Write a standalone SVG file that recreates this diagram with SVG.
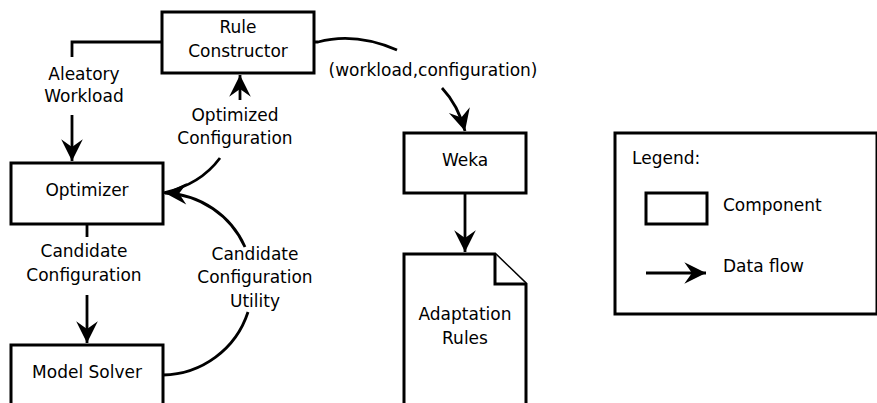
<svg xmlns="http://www.w3.org/2000/svg" width="877" height="403" viewBox="0 0 877 403">
<defs>
<style>
.box{fill:#fff;stroke:#000;stroke-width:3}
.ln{fill:none;stroke:#000;stroke-width:2.8}
.arr{fill:none;stroke:#000;stroke-width:2.8;marker-end:url(#ah)}
text{font-family:"DejaVu Sans","Noto Sans",sans-serif;font-size:17px;fill:#000;text-anchor:middle}
.l{text-anchor:start}
</style>
<marker id="ah" markerUnits="userSpaceOnUse" markerWidth="26" markerHeight="26" viewBox="-22 -12 24 24" refX="0" refY="0" orient="auto">
<path d="M0,0 L-20,-10 L-13,0 L-20,10 Z" fill="#000"/>
</marker>
</defs>
<rect width="877" height="403" fill="#fff"/>
<g id="connectors">
<path class="ln" d="M162,42 H72 V57"/>
<path class="arr" d="M72,115 V161"/>
<path class="ln" d="M87,224 V237"/>
<path class="arr" d="M87,295 V343"/>
<path class="ln" d="M163,193 Q200,185 220,158"/>
<path class="arr" d="M240,100 V75"/>
<path class="ln" d="M163,375 A91,91 0 0 0 248,312"/>
<path class="arr" d="M245,247 A91,91 0 0 0 165,193"/>
<path class="ln" d="M314,42 H318 Q355,32 397,50"/>
<path class="arr" d="M442,88 Q458,105 465,131"/>
<path class="arr" d="M465,193 V252"/>
</g>
<g id="labels">
<text x="84" y="80">Aleatory</text>
<text x="84" y="102">Workload</text>
<text x="235" y="121">Optimized</text>
<text x="235" y="144">Configuration</text>
<text x="84" y="257">Candidate</text>
<text x="84" y="281">Configuration</text>
<text x="255" y="260">Candidate</text>
<text x="255" y="283">Configuration</text>
<text x="255" y="307">Utility</text>
<text x="433" y="76">(workload,configuration)</text>
</g>
<g id="rule-constructor">
<rect class="box" x="162" y="12" width="152" height="61"/>
<text x="238" y="33">Rule</text>
<text x="238" y="57">Constructor</text>
</g>
<g id="optimizer">
<rect class="box" x="11" y="163" width="152" height="61"/>
<text x="87" y="196">Optimizer</text>
</g>
<g id="model-solver">
<rect class="box" x="11" y="345" width="152" height="80"/>
<text x="87" y="378">Model Solver</text>
</g>
<g id="weka">
<rect class="box" x="404" y="133" width="122" height="60"/>
<text x="465" y="166">Weka</text>
</g>
<g id="adaptation-rules">
<path class="box" d="M404,254 H495 L526,284 V420 H404 Z"/>
<path class="box" d="M495,254 V284 H526"/>
<text x="465" y="320">Adaptation</text>
<text x="465" y="344">Rules</text>
</g>
<g id="legend">
<rect class="box" x="615" y="133" width="262" height="181"/>
<text class="l" x="632" y="164">Legend:</text>
<rect class="box" x="646" y="193" width="61" height="31"/>
<text class="l" x="723" y="211">Component</text>
<path class="arr" d="M646,273 H706"/>
<text class="l" x="723" y="272">Data flow</text>
</g>
</svg>
